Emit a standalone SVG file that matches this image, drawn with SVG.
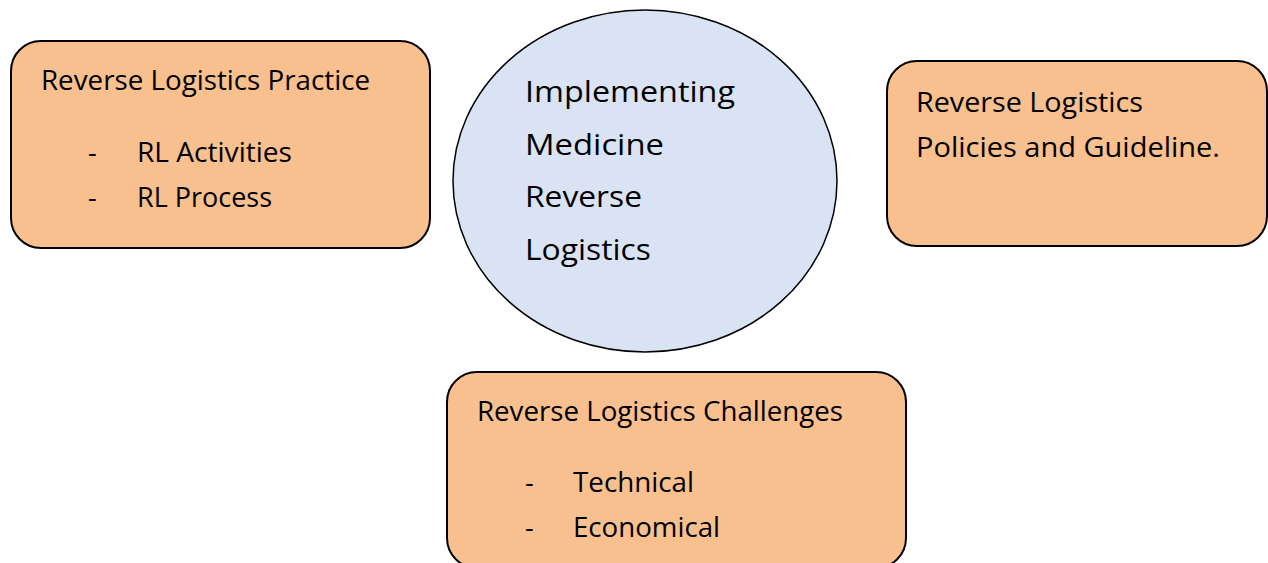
<svg xmlns="http://www.w3.org/2000/svg" width="1268" height="563" viewBox="0 0 1268 563">
  <style>
    .box { fill: #F8BF8F; stroke: #000; stroke-width: 2; }
    .hub { fill: #DAE3F3; stroke: #000; stroke-width: 1.5; }
    .t { font-family: "Open Sans", "Liberation Sans", sans-serif; font-size: 27px; fill: #000; }
    .big { font-size: 29px; }
  </style>
  <rect width="1268" height="563" fill="#fff"/>

  <g id="connectors"></g>

  <g id="node-practice">
    <rect class="box" x="11" y="41" width="419" height="207" rx="30" ry="30"/>
    <text class="t" x="41" y="90" textLength="329" lengthAdjust="spacingAndGlyphs">Reverse Logistics Practice</text>
    <text class="t" x="88" y="162">-</text>
    <text class="t" x="137" y="162" textLength="155" lengthAdjust="spacingAndGlyphs">RL Activities</text>
    <text class="t" x="88" y="207">-</text>
    <text class="t" x="137" y="207" textLength="135" lengthAdjust="spacingAndGlyphs">RL Process</text>
  </g>

  <g id="node-implementing">
    <ellipse class="hub" cx="645" cy="181" rx="192" ry="171"/>
    <text class="t big" x="525" y="102" textLength="210" lengthAdjust="spacingAndGlyphs">Implementing</text>
    <text class="t big" x="525" y="155" textLength="139" lengthAdjust="spacingAndGlyphs">Medicine</text>
    <text class="t big" x="525" y="207" textLength="117" lengthAdjust="spacingAndGlyphs">Reverse</text>
    <text class="t big" x="525" y="260" textLength="126" lengthAdjust="spacingAndGlyphs">Logistics</text>
  </g>

  <g id="node-policies">
    <rect class="box" x="887" y="61" width="380" height="185" rx="30" ry="30"/>
    <text class="t" x="916" y="112" textLength="227" lengthAdjust="spacingAndGlyphs">Reverse Logistics</text>
    <text class="t" x="916" y="157" textLength="304" lengthAdjust="spacingAndGlyphs">Policies and Guideline.</text>
  </g>

  <g id="node-challenges">
    <rect class="box" x="447" y="372" width="459" height="196" rx="30" ry="30"/>
    <text class="t" x="477" y="421" textLength="366" lengthAdjust="spacingAndGlyphs">Reverse Logistics Challenges</text>
    <text class="t" x="525" y="492">-</text>
    <text class="t" x="573" y="492" textLength="121" lengthAdjust="spacingAndGlyphs">Technical</text>
    <text class="t" x="525" y="537">-</text>
    <text class="t" x="573" y="537" textLength="147" lengthAdjust="spacingAndGlyphs">Economical</text>
  </g>
</svg>
